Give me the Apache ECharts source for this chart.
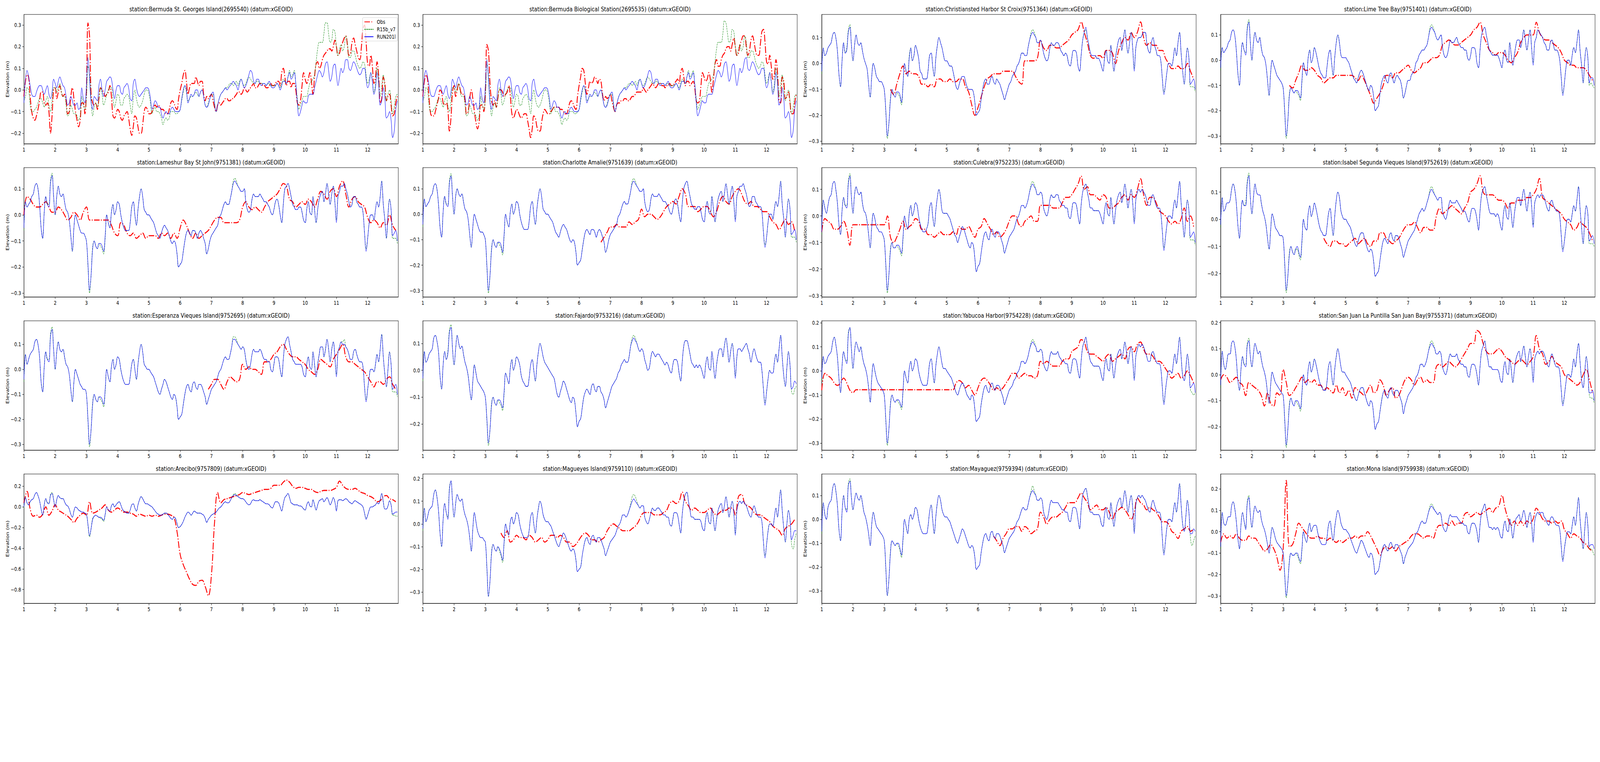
<!DOCTYPE html>
<html><head><meta charset="utf-8">
<script src="https://cdn.jsdelivr.net/npm/echarts@6/dist/echarts.min.js"></script>
<style>html,body{margin:0;padding:0;background:#fff;overflow:hidden}#wrap{position:absolute;left:0;top:0;overflow:hidden;background:#fff}#c{width:5150px;height:1950px;transform-origin:0 0}</style>
</head><body><div id="wrap"><div id="c"></div></div>
<script>
// ---------------- DATA (elevation in cm, regular time steps) ----------------
const titles = [
 "station:Bermuda St. Georges Island(2695540) (datum:xGEOID)",
 "station:Bermuda Biological Station(2695535) (datum:xGEOID)",
 "station:Christiansted Harbor St Croix(9751364) (datum:xGEOID)",
 "station:Lime Tree Bay(9751401) (datum:xGEOID)",
 "station:Lameshur Bay St John(9751381) (datum:xGEOID)",
 "station:Charlotte Amalie(9751639) (datum:xGEOID)",
 "station:Culebra(9752235) (datum:xGEOID)",
 "station:Isabel Segunda Vieques Island(9752619) (datum:xGEOID)",
 "station:Esperanza Vieques Island(9752695) (datum:xGEOID)",
 "station:Fajardo(9753216) (datum:xGEOID)",
 "station:Yabucoa Harbor(9754228) (datum:xGEOID)",
 "station:San Juan La Puntilla San Juan Bay(9755371) (datum:xGEOID)",
 "station:Arecibo(9757809) (datum:xGEOID)",
 "station:Magueyes Island(9759110) (datum:xGEOID)",
 "station:Mayaguez(9759394) (datum:xGEOID)",
 "station:Mona Island(9759938) (datum:xGEOID)"
];
const seriesNames = ["Obs", "R15b_v7", "RUN201l"];
const yLabel = "Elevation (m)";
const xTicks = [1,2,3,4,5,6,7,8,9,10,11,12];
const xMin = 1, xMax = 12.98;
const yMin = [-0.249,-0.249,-0.31,-0.331,-0.315,-0.325,-0.305,-0.286,-0.323,-0.297,-0.329,-0.29,-0.934,-0.35,-0.352,-0.335];
const yMax = [0.349,0.349,0.189,0.181,0.181,0.183,0.182,0.19,0.194,0.184,0.208,0.207,0.319,0.22,0.19,0.27];
const tA = [-0.2,-0.1,0,0.1,0.2,0.3];
const tB = [-0.3,-0.2,-0.1,0,0.1];
const tC = [-0.2,-0.1,0,0.1];
const tD = [-0.3,-0.2,-0.1,0,0.1,0.2];
const tE = [-0.2,-0.1,0,0.1,0.2];
const tF = [-0.8,-0.6,-0.4,-0.2,0,0.2];
const yTicks = [tA,tA,tB,tB,tB,tB,tB,tC,tB,tC,tD,tE,tF,tD,tB,tD];

const modelStart = 1.0, modelStep = 0.05;
const obsStep  = [0.05,0.05,0.1,0.1,0.1,0.1,0.1,0.1,0.1,0.1,0.1,0.1,0.1,0.1,0.1,0.1];
const obsStart = [1,1,3.2,3.2,1,6.7,1,4.3,6.9,1,1,1,1,3.5,6.5,1];

// ---- Bermuda St. Georges ----
const b1 = [-6,5,9,6,2,-2,-3,-3,-1,1,2,2,0,-2,0,2,-2,-4,-1,5,
3,1,4,6,4,2,1,-3,-7,-6,-3,-5,-7,-7,-6,-9,-8,1,-4,-6,
2,15,5,-6,-9,-3,-4,-5,2,5,0,-3,0,4,5,6,5,0,-4,0,
2,2,-1,-2,1,2,3,1,-4,-5,3,5,1,-2,-3,-2,-1,0,1,1,
0,-4,-9,-7,-5,-6,-8,-8,-11,-13,-11,-10,-11,-11,-9,-8,-9,-10,-10,-10,
-9,-4,0,2,0,-6,-4,-2,-3,-2,0,0,-3,-1,0,-3,-7,-8,-7,-4,
-2,-1,-6,-10,-7,-4,-2,-1,0,1,0,1,2,3,4,3,2,0,3,5,
3,1,2,4,7,9,8,4,3,5,5,3,2,3,3,2,3,4,2,1,
1,2,3,2,0,2,4,4,3,6,8,5,6,8,3,-6,-12,-10,-7,-5,
-6,-6,-3,-2,-2,-2,1,4,7,9,8,6,8,12,13,9,4,6,11,12,
7,2,6,10,8,10,14,14,10,9,11,13,12,10,8,7,8,10,10,5,
1,3,8,4,-2,1,8,3,-7,-5,1,-4,-13,-12,-10,-14,-22,-19,-9,-5];
const g1 = [-5,-3,1,0,-7,-10,-10,-9,-8,-6,-4,-4,-6,-8,-5,-3,-7,-10,-5,1,
1,-1,1,3,-1,-3,-3,-7,-12,-11,-7,-9,-11,-11,-12,-14,-12,-3,-7,-9,
-4,11,7,-4,-12,-8,-6,-8,-4,1,-2,-7,-5,-2,0,1,1,-4,-8,-5,
-2,-3,-7,-7,-4,-3,-2,-3,-7,-11,-4,0,-4,-7,-8,-7,-5,-2,0,0,
-2,-6,-11,-9,-8,-10,-10,-11,-13,-16,-14,-13,-14,-13,-10,-10,-10,-11,-11,-10,
-9,-5,-1,2,-1,-5,-4,-3,-3,-2,-1,-2,-3,-1,0,-3,-7,-8,-6,-4,
-2,-2,-7,-10,-7,-4,-2,-1,0,1,1,2,3,3,2,3,4,2,4,5,
3,2,3,5,6,5,4,3,3,4,4,3,3,3,3,2,3,3,2,2,
2,2,3,2,1,3,5,4,3,6,9,6,7,9,3,-4,-9,-7,-5,-3,
-3,-3,0,3,4,5,7,13,19,22,22,22,26,31,31,26,22,23,28,27,
20,16,19,21,18,20,25,22,15,15,18,18,16,13,11,10,11,13,12,7,
3,5,8,4,-1,3,10,5,-3,2,7,1,-5,-2,0,-5,-11,-8,-3,-2];
const o1 = [-3,4,7,6,-3,-10,-13,-14,-12,-9,-5,-1,-1,-6,-7,-6,-10,-20,-12,0,
1,-4,-1,2,-1,-3,-2,-5,-11,-10,-3,1,-4,-10,-14,-17,-14,-6,-6,-11,
0,31,25,-2,-6,-7,-6,-9,-4,1,0,-1,-3,-2,-1,2,-3,-12,-13,-11,
-9,-10,-13,-14,-12,-11,-10,-13,-18,-21,-17,-12,-13,-17,-20,-20,-16,-10,-8,-9,
-11,-11,-10,-8,-7,-8,-7,-8,-9,-9,-10,-11,-11,-9,-6,-5,-6,-8,-9,-4,
0,3,7,9,4,-2,1,3,3,3,6,4,2,4,4,-2,-5,-3,-4,-3,
-2,-5,-8,-10,-7,-6,-7,-6,-5,-4,-4,-5,-5,-4,-4,-3,-2,-1,-1,-2,
-1,1,0,-1,0,1,2,3,1,1,2,3,3,2,2,1,1,2,3,2,
2,3,4,4,2,8,10,6,2,4,4,1,3,3,0,-6,-7,-5,2,8,
5,3,5,8,4,-2,6,12,13,10,11,14,16,17,18,19,19,18,20,23,
20,16,17,20,22,24,25,21,16,17,22,24,21,18,15,14,20,28,30,22,
12,11,16,11,3,6,13,7,-6,-4,6,3,-5,-3,-2,-7,-12,-11,-6,-3];

// ---- Bermuda Biological ----
const b2 = [-6,6,9,6,2,-2,-3,-3,-1,1,2,2,0,-2,0,2,-2,-4,-1,5,
3,1,4,6,4,2,1,-3,-7,-6,-3,-5,-7,-7,-6,-9,-8,1,-4,-6,
2,14,5,-6,-9,-3,-4,-5,2,5,0,-3,0,4,5,6,5,0,-4,0,
2,2,-1,-2,1,2,3,1,-4,-5,3,5,1,-2,-3,-2,-1,0,1,1,
0,-4,-9,-7,-5,-6,-8,-8,-11,-13,-11,-10,-11,-11,-9,-8,-9,-10,-10,-10,
-9,-4,0,2,0,-6,-4,-2,-3,-2,0,0,-3,-1,0,-3,-7,-8,-7,-4,
-2,-1,-6,-10,-7,-4,-2,-1,0,1,0,1,2,3,4,3,2,0,3,5,
3,1,2,4,7,9,8,4,3,5,5,3,2,3,3,2,3,4,2,1,
1,2,3,2,0,2,4,4,3,6,8,5,6,8,3,-6,-12,-10,-7,-5,
-6,-6,-3,-2,-2,-2,1,4,7,9,8,6,8,12,13,9,4,6,11,12,
7,2,6,10,8,10,14,15,10,9,11,13,12,10,8,7,8,10,10,5,
1,3,8,4,-2,1,8,3,-7,-5,1,-4,-13,-12,-10,-14,-22,-19,-9,-5];
const g2 = [-5,-3,1,0,-7,-10,-10,-9,-8,-6,-4,-4,-6,-8,-5,-3,-7,-10,-5,1,
1,-1,1,3,-1,-3,-3,-7,-12,-11,-7,-9,-11,-11,-12,-14,-12,-3,-7,-9,
-4,12,7,-4,-12,-8,-6,-8,-4,1,-2,-7,-5,-2,0,1,1,-4,-8,-5,
-2,-3,-7,-7,-4,-3,-2,-3,-7,-11,-4,0,-4,-7,-8,-7,-5,-2,0,0,
-2,-6,-11,-9,-8,-10,-10,-11,-13,-16,-14,-13,-14,-13,-10,-10,-10,-11,-11,-10,
-9,-5,-1,2,-1,-5,-4,-3,-3,-2,-1,-2,-3,-1,0,-3,-7,-8,-6,-4,
-2,-2,-7,-10,-7,-4,-2,-1,0,1,1,2,3,3,2,3,4,2,4,5,
3,2,3,5,6,5,4,3,3,4,4,3,3,3,3,2,3,3,2,2,
2,2,3,2,1,3,5,4,3,6,9,6,7,9,3,-4,-9,-7,-5,-3,
-3,-3,0,3,4,5,7,13,19,22,22,22,26,32,31,26,22,23,28,27,
20,16,19,21,18,20,25,22,15,15,18,18,16,13,11,10,11,13,12,7,
3,5,8,4,-1,3,10,5,-3,2,7,1,-5,-2,0,-5,-11,-8,-3,-2];
const o2 = [-3,4,7,5,-4,-11,-12,-12,-10,-7,-4,0,-1,-6,-7,-6,-9,-19,-13,-1,
2,-3,0,3,0,-2,-2,-5,-11,-10,-4,0,-4,-10,-15,-18,-15,-7,-7,-10,
-2,21,18,3,-5,-7,-5,-8,-4,0,0,-1,-3,-2,-1,2,-3,-11,-13,-11,
-9,-10,-12,-13,-12,-11,-11,-14,-18,-22,-18,-12,-13,-17,-19,-19,-15,-11,-9,-10,
-11,-11,-10,-9,-8,-8,-8,-8,-9,-9,-10,-11,-11,-9,-6,-5,-6,-8,-9,-3,
2,6,10,9,3,-2,1,4,3,4,6,5,3,5,4,-2,-5,-3,-4,-3,
-2,-5,-8,-10,-7,-6,-6,-5,-5,-4,-4,-5,-5,-4,-3,-3,-2,-1,-1,-1,
-1,1,0,-1,0,1,2,3,2,1,2,3,3,2,2,1,2,2,3,2,
2,3,4,5,3,8,10,6,2,4,4,2,3,4,1,-5,-6,-5,2,8,
6,4,5,8,5,-1,5,12,14,11,11,14,16,17,19,20,20,18,21,24,
20,16,17,21,23,25,25,20,16,18,23,25,22,18,16,16,21,27,28,22,
13,12,16,11,5,7,14,8,-5,-6,6,4,-4,-3,-1,-6,-11,-11,-6,-2];

// ---- Christiansted ----
const b3 = [-3,6,3,4,6,7,8,11,12,10,5,-4,-9,1,8,4,5,12,14,7,
1,7,11,8,7,8,5,2,0,-2,-8,-13,-5,0,-2,-5,-6,-7,-7,-8,
-10,-18,-28,-23,-14,-10,-12,-13,-11,-11,-12,-15,-8,0,-3,-5,2,6,1,3,
7,5,2,-3,-4,-6,-6,-6,-3,3,4,-1,-5,2,7,10,8,6,3,1,
1,0,-1,-1,-3,-6,-9,-10,-8,-6,-5,-5,-7,-9,-10,-10,-10,-11,-15,-20,
-19,-18,-14,-10,-7,-6,-8,-8,-6,-5,-7,-8,-6,-7,-8,-10,-12,-14,-12,-10,
-8,-7,-5,-4,-3,-1,0,2,4,4,3,3,6,9,11,12,11,10,8,8,
9,7,4,2,1,2,6,8,7,7,8,8,7,5,4,3,4,3,0,-1,
2,5,5,4,-1,-3,3,9,12,14,10,7,4,3,3,3,2,2,1,-1,
-3,2,5,1,0,7,2,-3,2,6,9,10,5,9,13,8,4,8,12,6,
-3,6,9,10,10,11,12,12,8,5,4,8,10,7,5,3,3,1,-6,-12,
-8,-3,0,0,-1,2,6,3,8,12,4,-3,-8,0,6,2,-8,-7,-6,-10];
const g3 = [-4,6,3,4,6,7,8,11,12,10,5,-4,-9,1,8,4,6,13,15,7,
1,7,11,8,7,8,5,2,0,-2,-8,-13,-5,0,-2,-5,-6,-7,-7,-8,
-10,-19,-29,-23,-13,-10,-12,-13,-11,-12,-13,-16,-9,0,-3,-5,3,6,1,3,
7,5,2,-3,-4,-6,-6,-6,-3,3,4,-1,-5,2,7,10,8,6,3,1,
1,0,-1,-1,-3,-6,-9,-10,-8,-6,-5,-5,-7,-9,-10,-10,-10,-11,-15,-20,
-19,-18,-14,-10,-7,-6,-8,-8,-6,-5,-7,-8,-6,-7,-8,-10,-12,-14,-12,-10,
-8,-7,-5,-4,-3,-1,0,2,4,4,3,3,6,9,12,13,12,10,8,8,
9,7,4,2,1,2,6,8,7,7,8,8,7,5,4,3,4,3,0,-1,
2,5,5,4,-1,-3,3,9,12,13,10,7,4,3,3,3,2,2,1,-1,
-3,2,5,1,0,7,2,-3,2,6,9,10,5,9,13,8,4,8,12,6,
-2,6,9,10,10,11,12,12,8,5,4,8,10,7,5,3,3,1,-6,-11,
-8,-3,0,0,-1,2,6,3,8,12,4,-3,-8,0,6,2,-9,-9,-9,-11];
const o3 = [-10,-12,-8,-4,-1,-4,-3,-4,
-4,-5,-8,-8,-9,-8,-9,-6,-6,-7,
-7,-6,-7,-7,-6,-6,-9,-11,-16,-20,
-17,-13,-9,-6,-5,-4,-4,-4,-3,-3,
-3,-3,-5,-7,-8,1,1,1,1,2,
9,6,5,7,7,6,6,7,8,9,
11,12,13,16,12,8,3,2,3,3,
2,5,5,4,0,5,8,10,9,12,
10,12,16,10,7,8,7,7,5,5,
2,0,-2,-2,-1,-2,-2,0,-3,-6];

// ---- Lime Tree Bay ----
const b4 = [-3,5,3,4,5,7,8,11,12,10,4,-5,-10,1,7,4,2,12,15,7,
0,7,11,8,7,9,5,2,1,-2,-8,-14,-5,0,-2,-4,-6,-7,-8,-9,
-11,-20,-30,-24,-14,-11,-12,-13,-12,-12,-13,-15,-8,-1,-4,-6,1,4,-1,1,
5,3,0,-3,-5,-6,-7,-7,-3,2,4,-1,-6,1,7,10,7,2,1,1,
1,0,-1,-3,-5,-7,-8,-9,-7,-5,-4,-5,-7,-9,-11,-12,-10,-11,-15,-20,
-19,-18,-13,-9,-7,-6,-8,-9,-6,-5,-7,-9,-7,-6,-7,-8,-11,-15,-13,-10,
-8,-8,-6,-5,-4,-1,0,2,3,4,4,5,6,9,12,13,12,11,9,8,
9,10,5,2,1,2,5,8,7,7,8,9,7,6,5,5,4,4,1,0,
2,5,5,4,-1,-3,4,10,12,13,10,7,4,3,2,2,2,2,1,-1,
-3,2,4,0,-1,7,2,-2,2,6,8,8,5,8,12,8,4,8,12,5,
-2,7,9,12,11,10,9,7,6,4,4,7,8,6,4,4,3,0,-7,-14,
-9,-3,0,0,-2,2,5,3,7,12,4,-2,-9,0,5,1,-9,-7,-7,-10];
const g4 = [-4,5,3,4,5,7,8,11,12,10,4,-5,-10,1,7,4,3,13,16,7,
0,7,11,8,7,9,5,2,1,-2,-8,-14,-5,0,-2,-4,-6,-7,-8,-9,
-11,-21,-31,-24,-13,-11,-12,-13,-12,-13,-14,-16,-9,-1,-4,-6,1,4,-1,1,
5,3,0,-3,-5,-6,-7,-7,-3,2,4,-1,-6,1,7,10,7,2,1,1,
1,0,-1,-3,-5,-7,-8,-9,-7,-5,-4,-5,-7,-9,-11,-12,-10,-11,-15,-20,
-19,-18,-13,-9,-7,-6,-8,-9,-6,-5,-7,-9,-7,-6,-7,-8,-11,-15,-13,-10,
-8,-8,-6,-5,-4,-1,0,2,3,4,4,5,6,9,13,14,13,11,9,8,
9,10,5,2,1,2,5,8,7,7,8,9,7,6,5,5,4,4,1,0,
2,5,5,4,-1,-3,4,10,12,13,10,7,4,3,2,2,2,2,1,-1,
-3,2,4,0,-1,7,2,-2,2,6,8,8,5,8,12,8,4,8,12,5,
-1,7,9,12,11,10,9,7,6,4,4,7,8,6,4,4,3,0,-7,-13,
-9,-3,0,0,-2,2,5,3,7,12,4,-2,-9,0,5,1,-10,-9,-10,-11];
const o4 = [-10,-11,-8,-5,-2,-4,-4,-3,
-4,-6,-7,-9,-8,-7,-7,-6,-6,-6,
-6,-6,-6,-7,-8,-6,-8,-11,-14,-17,
-15,-13,-10,-6,-6,-7,-5,-5,-4,-3,
-2,-4,-5,-4,-3,-1,-1,0,1,1,
2,6,7,8,7,6,6,7,8,9,
10,12,13,15,10,7,4,3,2,3,
3,2,0,-1,1,3,7,9,10,10,
10,15,11,9,8,8,7,6,5,3,
0,-1,-2,-2,-3,-3,-3,-4,-6,-8];

// ---- Lameshur Bay ----
const b5 = [-5,5,3,4,5,7,8,11,12,10,4,-5,-9,1,7,4,3,12,15,7,
0,7,11,8,7,8,5,2,1,-2,-8,-14,-5,0,-2,-4,-6,-7,-7,-8,
-10,-19,-29,-23,-13,-10,-12,-13,-11,-11,-12,-14,-8,0,-3,-5,1,4,0,2,
5,4,0,-3,-5,-6,-6,-6,-3,3,5,0,-4,2,7,10,7,2,1,0,
0,-1,-2,-3,-5,-7,-8,-9,-7,-5,-4,-5,-6,-8,-10,-11,-10,-11,-15,-20,
-19,-18,-14,-10,-7,-6,-7,-8,-6,-6,-7,-9,-7,-6,-7,-9,-11,-15,-13,-10,
-8,-7,-6,-5,-4,-1,0,2,4,5,4,4,6,9,12,13,12,11,10,9,
9,10,5,2,1,2,6,8,7,7,7,8,7,6,5,5,4,3,1,0,
2,5,6,4,0,-3,4,10,11,12,10,7,4,3,2,2,3,3,1,-2,
-3,2,5,1,0,7,2,-3,2,6,8,9,5,8,12,8,4,8,11,5,
-3,7,9,11,11,12,10,8,5,3,4,7,7,5,4,3,3,1,-7,-14,
-9,-3,0,0,-2,2,5,3,7,13,4,-2,-9,0,6,2,-8,-7,-6,-10];
const g5 = [-6,5,3,4,5,7,8,11,12,10,4,-5,-9,1,7,4,4,13,16,7,
0,7,11,8,7,8,5,2,1,-2,-8,-14,-5,0,-2,-4,-6,-7,-7,-8,
-10,-20,-30,-23,-12,-10,-12,-13,-11,-12,-13,-15,-9,0,-3,-5,1,4,0,2,
5,4,0,-3,-5,-6,-6,-6,-3,3,5,0,-4,2,7,10,7,2,1,0,
0,-1,-2,-3,-5,-7,-8,-9,-7,-5,-4,-5,-6,-8,-10,-11,-10,-11,-15,-20,
-19,-18,-14,-10,-7,-6,-7,-8,-6,-6,-7,-9,-7,-6,-7,-9,-11,-15,-13,-10,
-8,-7,-6,-5,-4,-1,0,2,4,5,4,4,6,9,13,14,13,11,10,9,
9,10,5,2,1,2,6,8,7,7,7,8,7,6,5,5,4,3,1,0,
2,5,6,4,0,-3,4,10,11,12,10,7,4,3,2,2,3,3,1,-2,
-3,2,5,1,0,7,2,-3,2,6,8,9,5,8,12,8,4,8,11,5,
-2,7,9,11,11,12,10,8,5,3,4,7,7,5,4,3,3,1,-7,-13,
-9,-3,0,0,-2,2,5,3,7,13,4,-2,-9,0,6,2,-9,-9,-9,-11];
const o5 = [0,7,6,4,3,3,4,5,3,1,
1,3,2,0,-2,-1,1,0,-2,1,
3,-2,-2,-2,-2,-2,-2,-2,-4,-7,
-8,-3,-4,-7,-8,-7,-9,-8,-7,-9,
-8,-8,-8,-9,-7,-8,-7,-9,-7,-9,
-5,-2,-4,-7,-9,-7,-9,-8,-7,-6,
-4,-2,-1,-1,-3,-3,-3,-3,-3,-2,
3,5,3,2,3,2,1,3,5,6,
7,8,10,12,11,6,5,3,4,5,
4,6,5,3,6,9,8,6,9,10,
7,11,13,8,3,6,7,5,4,3,
-1,-3,-2,-3,-5,-3,-4,0,-4,-6];

// ---- Charlotte Amalie ----
const b6 = [-4,6,3,4,5,7,8,11,12,10,4,-5,-9,1,7,4,3,12,15,7,
0,7,10,8,7,8,5,2,1,-2,-8,-13,-5,0,-2,-4,-6,-7,-7,-8,
-10,-20,-30,-24,-14,-10,-12,-13,-11,-11,-12,-15,-8,0,-3,-5,1,4,0,2,
5,4,0,-3,-5,-6,-6,-6,-3,3,5,0,-4,2,7,10,7,2,1,0,
0,-1,-2,-3,-5,-7,-8,-9,-7,-5,-4,-5,-6,-8,-10,-11,-10,-11,-15,-20,
-19,-18,-14,-10,-7,-6,-7,-8,-6,-6,-7,-9,-7,-6,-7,-9,-11,-15,-13,-10,
-8,-7,-6,-5,-4,-1,0,2,4,5,4,4,6,9,12,13,12,11,10,9,
9,10,5,2,1,2,6,8,7,7,7,8,7,6,5,5,4,3,1,0,
2,5,6,4,0,-3,4,10,12,13,10,7,4,3,2,2,3,3,1,-2,
-3,2,5,1,0,7,2,-3,2,6,8,9,5,8,12,8,4,8,11,5,
-3,7,9,11,11,12,10,8,5,3,4,7,7,5,4,3,3,1,-7,-13,
-9,-3,0,0,-2,2,5,3,7,13,4,-2,-9,0,6,2,-8,-7,-6,-10];
const g6 = [-5,6,3,4,5,7,8,11,12,10,4,-5,-9,1,7,4,4,13,16,7,
0,7,10,8,7,8,5,2,1,-2,-8,-13,-5,0,-2,-4,-6,-7,-7,-8,
-10,-21,-31,-24,-13,-10,-12,-13,-11,-12,-13,-16,-9,0,-3,-5,1,4,0,2,
5,4,0,-3,-5,-6,-6,-6,-3,3,5,0,-4,2,7,10,7,2,1,0,
0,-1,-2,-3,-5,-7,-8,-9,-7,-5,-4,-5,-6,-8,-10,-11,-10,-11,-15,-20,
-19,-18,-14,-10,-7,-6,-7,-8,-6,-6,-7,-9,-7,-6,-7,-9,-11,-15,-13,-10,
-8,-7,-6,-5,-4,-1,0,2,4,5,4,4,6,9,13,14,13,11,10,9,
9,10,5,2,1,2,6,8,7,7,7,8,7,6,5,5,4,3,1,0,
2,5,6,4,0,-3,4,10,12,13,10,7,4,3,2,2,3,3,1,-2,
-3,2,5,1,0,7,2,-3,2,6,8,9,5,8,12,8,4,8,11,5,
-2,7,9,11,11,12,10,8,5,3,4,7,7,5,4,3,3,1,-7,-12,
-9,-3,0,0,-2,2,5,3,7,13,4,-2,-9,0,6,2,-9,-9,-9,-11];
const o6 = [-11,-9,-7,
-5,-5,-4,-5,-5,-5,-3,-4,-3,-2,
2,-1,0,0,-1,-2,-1,1,3,4,
5,4,7,10,8,3,3,3,1,2,
3,3,1,-1,1,5,7,5,4,7,
9,10,8,5,4,5,3,3,2,1,
1,-1,-3,-4,-6,-4,-2,-4,-3,-7];

// ---- Culebra ----
const b7 = [-6,6,3,1,4,7,8,12,13,10,5,-3,-7,2,7,4,3,12,15,7,
1,8,11,9,8,9,5,2,1,-2,-7,-12,-4,1,-1,-4,-5,-6,-6,-7,
-9,-18,-28,-22,-13,-10,-12,-12,-11,-11,-12,-14,-8,0,-3,-5,1,4,0,2,
5,4,0,-3,-5,-6,-6,-5,-3,3,5,0,-4,2,7,10,7,2,1,1,
1,0,-1,-3,-5,-7,-8,-10,-8,-6,-4,-5,-7,-9,-11,-12,-10,-11,-16,-21,
-19,-18,-14,-10,-7,-6,-8,-9,-6,-5,-7,-8,-6,-6,-7,-9,-11,-14,-12,-10,
-8,-7,-6,-5,-3,-1,0,2,4,4,3,4,6,9,11,12,11,10,8,8,
9,8,3,1,0,2,6,8,7,7,8,8,6,5,4,4,3,3,0,-1,
2,5,5,4,0,-3,4,9,11,12,9,6,3,3,2,2,2,2,1,-1,
-3,2,5,1,0,7,2,-3,2,6,8,9,5,8,12,8,3,7,10,5,
-3,6,9,10,9,10,9,8,6,4,4,7,8,6,4,3,3,1,-6,-13,
-8,-3,0,0,-1,3,6,3,8,13,5,-2,-8,0,6,2,-8,-7,-6,-10];
const g7 = [-7,6,3,1,4,7,8,12,13,10,5,-3,-7,2,7,4,4,13,16,7,
1,8,11,9,8,9,5,2,1,-2,-7,-12,-4,1,-1,-4,-5,-6,-6,-7,
-9,-19,-29,-22,-12,-10,-12,-12,-11,-12,-13,-15,-9,0,-3,-5,1,4,0,2,
5,4,0,-3,-5,-6,-6,-5,-3,3,5,0,-4,2,7,10,7,2,1,1,
1,0,-1,-3,-5,-7,-8,-10,-8,-6,-4,-5,-7,-9,-11,-12,-10,-11,-16,-21,
-19,-18,-14,-10,-7,-6,-8,-9,-6,-5,-7,-8,-6,-6,-7,-9,-11,-14,-12,-10,
-8,-7,-6,-5,-3,-1,0,2,4,4,3,4,6,9,12,13,12,10,8,8,
9,8,3,1,0,2,6,8,7,7,8,8,6,5,4,4,3,3,0,-1,
2,5,5,4,0,-3,4,9,11,12,9,6,3,3,2,2,2,2,1,-1,
-3,2,5,1,0,7,2,-3,2,6,8,9,5,8,12,8,3,7,10,5,
-2,6,9,10,9,10,9,8,6,4,4,7,8,6,4,3,3,1,-6,-12,
-8,-3,0,0,-1,3,6,3,8,13,5,-2,-8,0,6,2,-9,-9,-9,-11];
const o7 = [-6,-1,-2,-3,-5,-5,-4,-2,-5,-11,
-3.3,-3.3,-3.3,-3.3,-3.3,-3.3,-3.3,-3.3,-3.3,-3.3,
-3.3,0,-8,-10,-8,-5,-2,-5,-4,-3,
-1,-2,-5,-5,-7,-7,-8,-7,-6,-7,
-7,-7,-6,-7,-4,-5,-5,-4,-6,-8,
-5,-4,-1,-3,-5,-7,-6,-8,-7,-5,
-2,0,0,-3,-4,-2,-1,0,-2,-2,
4,4,4,4,3,3,3,5,7,7,
8,10,12,15,10,11,8,8,7,6,
8,7,3,3,4,5,7,8,6,8,
7,10,14,8,4,7,7,5,2,1,
0,-2,-3,-2,-3,-1,3,-2,0,-4];

// ---- Isabel Segunda ----
const b8 = [-2,8,3,4,6,6,7,11,13,11,6,-2,-7,2,7,5,5,13,16,8,
2,8,13,10,9,9,6,3,1,-2,-7,-11,-4,2,0,-3,-4,-5,-6,-6,
-7,-16,-26,-21,-13,-10,-12,-13,-11,-10,-12,-14,-8,0,-3,-4,2,5,1,3,
6,4,1,-2,-4,-5,-6,-6,-3,2,4,-1,-6,1,7,10,8,3,1,0,
0,-1,-2,-3,-5,-7,-9,-10,-8,-6,-5,-5,-7,-9,-11,-12,-11,-12,-16,-21,
-20,-19,-15,-11,-8,-7,-8,-9,-6,-5,-7,-8,-6,-6,-7,-9,-11,-14,-12,-10,
-8,-7,-6,-5,-4,-2,0,2,3,4,3,4,6,8,10,11,10,9,8,7,
8,8,3,1,0,2,5,7,6,6,6,7,6,5,4,3,3,2,0,-1,
2,4,4,3,0,-4,3,9,11,12,9,6,3,2,2,2,1,2,1,-2,
-4,2,5,1,0,6,2,-3,2,6,8,8,5,8,11,7,3,7,10,5,
-3,6,8,9,8,9,9,8,6,4,3,6,7,5,4,3,3,1,-6,-12,
-8,-3,0,0,-1,2,5,3,7,12,4,-3,-9,0,5,2,-8,-7,-6,-9];
const g8 = [-3,8,3,4,6,6,7,11,13,11,6,-2,-7,2,7,5,6,14,17,8,
2,8,13,10,9,9,6,3,1,-2,-7,-11,-4,2,0,-3,-4,-5,-6,-6,
-7,-17,-27,-21,-12,-10,-12,-13,-11,-11,-13,-15,-9,0,-3,-4,2,5,1,3,
6,4,1,-2,-4,-5,-6,-6,-3,2,4,-1,-6,1,7,10,8,3,1,0,
0,-1,-2,-3,-5,-7,-9,-10,-8,-6,-5,-5,-7,-9,-11,-12,-11,-12,-16,-21,
-20,-19,-15,-11,-8,-7,-8,-9,-6,-5,-7,-8,-6,-6,-7,-9,-11,-14,-12,-10,
-8,-7,-6,-5,-4,-2,0,2,3,4,3,4,6,8,11,12,11,9,8,7,
8,8,3,1,0,2,5,7,6,6,6,7,6,5,4,3,3,2,0,-1,
2,4,4,3,0,-4,3,9,11,12,9,6,3,2,2,2,1,2,1,-2,
-4,2,5,1,0,6,2,-3,2,6,8,8,5,8,11,7,3,7,10,5,
-2,6,8,9,8,9,9,8,6,4,3,6,7,5,4,3,3,1,-6,-11,
-8,-3,0,0,-1,2,5,3,7,12,4,-3,-9,0,5,2,-9,-9,-9,-10];
const o8 = [-7,-9,-10,-8,-8,-9,-9,
-10,-9,-8,-7,-9,-8,-7,-9,-10,-8,
-8,-5,-5,-7,-8,-9,-8,-7,-5,-3,
-2,-2,-1,-3,-5,-3,-3,-4,-4,1,
4,2,3,4,5,4,3,2,4,6,
10,11,13,16,10,9,9,9,8,7,
7,6,4,6,6,7,7,7,8,8,
9,11,15,8,7,6,5,4,3,2,
0,-1,-2,-4,-3,-1,-2,-3,-5,-8];

// ---- Esperanza ----
const b9 = [-4,6,2,4,6,7,8,11,12,10,5,-5,-9,1,7,4,3,13,16,8,
0,7,11,8,7,8,5,2,1,-2,-8,-13,-5,0,-2,-4,-6,-7,-8,-8,
-10,-20,-30,-24,-14,-10,-12,-13,-11,-11,-12,-14,-8,0,-3,-5,1,4,0,2,
5,4,0,-3,-5,-6,-6,-6,-3,2,4,0,-4,2,7,10,7,2,1,0,
0,-1,-2,-3,-5,-7,-9,-10,-8,-6,-4,-5,-7,-9,-11,-12,-10,-11,-15,-20,
-19,-18,-14,-10,-7,-6,-8,-9,-6,-5,-7,-8,-6,-6,-7,-9,-11,-14,-12,-10,
-8,-7,-6,-5,-3,-1,0,2,4,5,4,4,6,9,12,12,11,10,9,8,
9,8,4,1,0,2,6,8,7,7,7,8,7,5,4,4,3,3,0,-1,
2,5,5,4,0,-3,4,10,12,13,10,7,4,3,2,2,2,2,1,-2,
-3,2,5,1,0,7,2,-3,2,6,9,9,5,8,12,8,3,8,11,5,
-3,7,9,11,10,10,9,8,6,4,4,7,8,6,4,3,3,1,-7,-13,
-8,-3,0,0,-1,2,6,3,8,14,5,-2,-7,0,7,2,-8,-7,-6,-10];
const g9 = [-5,6,2,4,6,7,8,11,12,10,5,-5,-9,1,7,4,4,14,17,8,
0,7,11,8,7,8,5,2,1,-2,-8,-13,-5,0,-2,-4,-6,-7,-8,-8,
-10,-21,-31,-24,-13,-10,-12,-13,-11,-12,-13,-15,-9,0,-3,-5,1,4,0,2,
5,4,0,-3,-5,-6,-6,-6,-3,2,4,0,-4,2,7,10,7,2,1,0,
0,-1,-2,-3,-5,-7,-9,-10,-8,-6,-4,-5,-7,-9,-11,-12,-10,-11,-15,-20,
-19,-18,-14,-10,-7,-6,-8,-9,-6,-5,-7,-8,-6,-6,-7,-9,-11,-14,-12,-10,
-8,-7,-6,-5,-3,-1,0,2,4,5,4,4,6,9,13,13,12,10,9,8,
9,8,4,1,0,2,6,8,7,7,7,8,7,5,4,4,3,3,0,-1,
2,5,5,4,0,-3,4,10,12,13,10,7,4,3,2,2,2,2,1,-2,
-3,2,5,1,0,7,2,-3,2,6,9,9,5,8,12,8,3,8,11,5,
-2,7,9,11,11,12,9,8,6,4,4,7,8,6,4,3,3,1,-7,-12,
-8,-3,0,0,-1,2,6,3,8,14,5,-2,-7,0,7,2,-9,-9,-9,-11];
const o9 = [-8,
-6,-4,-4,-6,-8,-5,-3,-4,-5,-4,
2,0,1,0,0,-1,-2,3,3,4,
6,7,9,10,8,6,5,5,4,3,
2,0,-1,-2,0,4,3,2,1,4,
6,8,10,5,3,3,2,1,0,-1,
-3,-5,-7,-5,-5,-6,-4,-3,-6,-8];

// ---- Fajardo ----
const b10 = [-3,7,3,4,6,7,8,12,13,11,7,-2,-7,2,7,4,6,14,16,8,
2,8,13,10,8,9,6,3,1,-2,-7,-11,-4,2,-1,-4,-5,-6,-7,-8,
-10,-18,-27,-22,-13,-10,-12,-13,-11,-11,-12,-14,-8,-1,-3,-5,1,4,0,2,
5,4,2,-2,-4,-5,-6,-6,-3,2,4,0,-4,2,7,10,8,5,3,2,
1,0,-1,-2,-3,-6,-9,-10,-8,-6,-4,-5,-7,-9,-11,-12,-10,-11,-16,-21,
-19,-18,-14,-10,-8,-7,-8,-9,-6,-5,-7,-8,-6,-6,-8,-9,-11,-14,-12,-10,
-8,-6,-5,-4,-3,-1,0,2,3,4,3,3,5,9,11,12,11,10,8,7,
8,7,4,2,0,1,5,7,6,5,6,6,5,4,3,2,3,2,0,-1,
2,4,4,3,-1,-4,3,9,11,11,9,6,3,2,1,2,1,2,1,-1,
-3,2,5,1,0,7,2,-3,2,6,8,8,5,9,12,8,3,7,10,5,
-3,5,8,8,7,8,9,10,8,6,3,6,8,6,4,3,3,0,-7,-13,
-8,-3,0,-1,-1,3,6,3,8,13,5,-2,-6,1,7,2,-7,-6,-4,-5];
const g10 = [-4,7,3,4,6,7,8,12,13,11,7,-2,-7,2,7,4,7,15,17,8,
2,8,13,10,8,9,6,3,1,-2,-7,-11,-4,2,-1,-4,-5,-6,-7,-8,
-10,-19,-28,-22,-12,-10,-12,-13,-11,-12,-13,-15,-9,-1,-3,-5,1,4,0,2,
5,4,2,-2,-4,-5,-6,-6,-3,2,4,0,-4,2,7,10,8,5,3,2,
1,0,-1,-2,-3,-6,-9,-10,-8,-6,-4,-5,-7,-9,-11,-12,-10,-11,-16,-21,
-19,-18,-14,-10,-8,-7,-8,-9,-6,-5,-7,-8,-6,-6,-8,-9,-11,-14,-12,-10,
-8,-6,-5,-4,-3,-1,0,2,3,4,3,3,5,9,12,13,12,10,8,7,
8,7,4,2,0,1,5,7,6,5,6,6,5,4,3,2,3,2,0,-1,
2,4,4,3,-1,-4,3,9,11,11,9,6,3,2,1,2,1,2,1,-1,
-3,2,5,1,0,7,2,-3,2,6,8,8,5,9,12,8,3,7,10,5,
-2,5,8,8,7,8,9,10,8,6,3,6,8,6,4,3,3,0,-7,-12,
-8,-3,0,-1,-1,3,6,3,8,13,5,-2,-6,1,7,2,-8,-9,-7,-6];
const o10 = [];

// ---- Yabucoa ----
const b11 = [-3,6,3,4,6,7,8,12,14,11,6,-3,-9,2,8,5,3,15,18,9,
1,8,12,10,8,10,6,3,1,-2,-7,-13,-3,3,0,-3,-5,-6,-7,-8,
-10,-20,-30,-24,-14,-10,-12,-13,-12,-12,-13,-15,-8,0,-3,-5,1,4,0,2,
5,4,0,-3,-5,-6,-6,-6,-3,3,5,0,-5,2,7,10,7,3,1,1,
0,-1,-2,-3,-5,-7,-9,-10,-8,-6,-5,-6,-8,-10,-11,-12,-10,-11,-16,-21,
-20,-19,-14,-10,-7,-6,-8,-9,-6,-5,-7,-8,-6,-6,-7,-9,-11,-14,-12,-10,
-8,-7,-6,-4,-3,-1,0,2,4,4,3,4,6,9,11,12,11,10,8,8,
9,8,3,1,0,2,6,8,7,7,7,8,6,5,4,4,3,3,0,-1,
2,5,5,4,0,-3,4,10,12,14,10,7,4,3,2,2,2,2,1,-2,
-4,2,5,1,0,7,2,-3,2,6,8,9,5,8,12,8,3,7,10,5,
-4,6,9,11,10,11,10,8,6,4,4,7,8,6,4,3,3,1,-7,-14,
-8,-3,0,0,-1,3,7,3,8,14,6,-2,-4,1,7,2,-7,-6,-5,-9];
const g11 = [-4,6,3,4,6,7,8,12,14,11,6,-3,-9,2,8,5,4,16,18,9,
1,8,12,10,8,10,6,3,1,-2,-7,-13,-3,3,0,-3,-5,-6,-7,-8,
-10,-21,-31,-24,-13,-10,-12,-13,-12,-13,-14,-16,-9,0,-3,-5,1,4,0,2,
5,4,0,-3,-5,-6,-6,-6,-3,3,5,0,-5,2,7,10,7,3,1,1,
0,-1,-2,-3,-5,-7,-9,-10,-8,-6,-5,-6,-8,-10,-11,-12,-10,-11,-16,-21,
-20,-19,-14,-10,-7,-6,-8,-9,-6,-5,-7,-8,-6,-6,-7,-9,-11,-14,-12,-10,
-8,-7,-6,-4,-3,-1,0,2,4,4,3,4,6,9,12,13,12,10,8,8,
9,8,3,1,0,2,6,8,7,7,7,8,6,5,4,4,3,3,0,-1,
2,5,5,4,0,-3,4,10,12,14,10,7,4,3,2,2,2,2,1,-2,
-4,2,5,1,0,7,2,-3,2,6,8,9,5,8,12,8,3,7,10,5,
-3,6,9,11,10,11,10,8,6,4,4,7,8,6,4,3,3,1,-7,-13,
-8,-3,0,0,-1,3,7,3,8,14,6,-2,-4,1,7,2,-8,-9,-10,-9];
const o11 = [-8,-1,-2,-3,-5,-6,-5,-3,-5,-8,
-9,-7.8,-7.8,-7.8,-7.8,-7.8,-7.8,-7.8,-7.8,-7.8,
-7.8,-7.8,-7.8,-7.8,-7.8,-7.8,-7.8,-7.8,-7.8,-7.8,
-7.8,-7.8,-7.8,-7.8,-7.8,-7.8,-7.8,-7.8,-7.8,-7.8,
-7.8,-7.8,-7.8,-5,-4,-5,-7,-6,-8,-10,
-7,-4,-3,-4,-6,-8,-7,-8,-7,-5,
-3,-1,-1,-3,-2,-1,-2,-2,-3,-2,
4,3,4,3,2,2,2,4,5,5,
8,9,10,13,12,8,7,7,6,5,
4,6,7,4,5,6,7,5,9,10,
8,11,12,9,7,7,6,4,4,3,
1,-1,-3,-2,-1,-3,-2,0,-2,-5];

// ---- San Juan ----
const b12 = [-4,9,4,2,5,8,8,12,13,11,6,-2,-6,2,7,4,3,11,13,7,
3,8,12,10,8,9,6,3,1,-2,-7,-11,-4,1,-1,-3,-4,-5,-6,-7,
-8,-17,-27,-21,-12,-9,-11,-12,-10,-10,-11,-13,-7,0,-3,-4,2,5,1,3,
6,4,1,-2,-4,-5,-6,-6,-3,3,5,0,-4,2,7,10,7,3,1,1,
0,-1,-2,-3,-5,-7,-9,-10,-8,-6,-5,-5,-7,-9,-11,-12,-10,-11,-16,-21,
-19,-18,-14,-10,-7,-6,-8,-9,-6,-5,-7,-8,-6,-6,-7,-9,-11,-15,-12,-10,
-8,-7,-6,-5,-3,-1,0,2,4,4,3,4,6,9,11,12,11,10,8,8,
9,8,3,1,0,2,6,8,7,7,7,8,6,5,4,4,3,3,0,-1,
2,4,4,3,0,-4,3,9,11,13,9,6,3,3,2,2,2,2,1,-2,
-3,2,5,1,0,6,2,-3,2,6,8,9,5,8,11,7,3,7,10,5,
-3,6,8,9,8,9,9,8,6,4,3,6,8,6,4,3,3,1,-6,-12,
-8,-3,0,0,-1,2,6,3,8,12,5,-2,-5,1,7,2,-7,-7,-6,-10];
const g12 = [-5,9,4,2,5,8,8,12,13,11,6,-2,-6,2,7,4,4,12,14,7,
3,8,12,10,8,9,6,3,1,-2,-7,-11,-4,1,-1,-3,-4,-5,-6,-7,
-8,-18,-28,-21,-11,-9,-11,-12,-10,-11,-12,-14,-8,0,-3,-4,2,5,1,3,
6,4,1,-2,-4,-5,-6,-6,-3,3,5,0,-4,2,7,10,7,3,1,1,
0,-1,-2,-3,-5,-7,-9,-10,-8,-6,-5,-5,-7,-9,-11,-12,-10,-11,-16,-21,
-19,-18,-14,-10,-7,-6,-8,-9,-6,-5,-7,-8,-6,-6,-7,-9,-11,-15,-12,-10,
-8,-7,-6,-5,-3,-1,0,2,4,4,3,4,6,9,12,13,12,10,8,8,
9,8,3,1,0,2,6,8,7,7,7,8,6,5,4,4,3,3,0,-1,
2,4,4,3,0,-4,3,9,11,13,9,6,3,3,2,2,2,2,1,-2,
-3,2,5,1,0,6,2,-3,2,6,8,9,5,8,11,7,3,7,10,5,
-2,6,8,9,8,9,9,8,6,4,3,6,8,6,4,3,3,1,-6,-11,
-8,-3,0,0,-1,2,6,3,8,12,5,-2,-5,1,7,2,-8,-9,-9,-11];
const o12 = [-2,0,-1,-3,-2,-1,-3,-4,-8,-3,
-4,-5,-6,-8,-12,-7,-11,-12,-7,-8,
2,-3,-8,-7,-5,-3,-1,-3,-2,-3,
-2,-4,-4,-6,-5,-6,-7,-4,-7,-5,
-8,-6,-9,-5,-6,-7,-8,-6,-4,-7,
-6,-2,-4,-8,-6,-5,-9,-8,-5,-2,
-1,-2,-4,-2,-1,-3,-2,-3,-3,3,
4,3,4,5,4,3,4,6,8,10,
12,12,17,16,12,9,8,8,9,10,
9,7,6,5,4,5,6,5,4,5,
7,15,10,8,4,5,7,5,4,3,
0,-1,-2,-3,-4,-3,0,2,-2,-7];

// ---- Arecibo ----
const b13 = [0,9,4,2,5,7,8,12,14,11,6,-2,-8,2,8,4,3,11,13,7,
0,7,11,9,8,8,5,2,1,-2,-7,-10,-4,0,-1,-3,-4,-5,-5,-6,
-7,-17,-28,-21,-12,-9,-8,-9,-10,-10,-11,-13,-7,0,-3,-4,1,3,0,2,
4,5,2,-2,-4,-5,-6,-6,-3,2,3,-1,-4,2,7,10,8,5,3,3,
2,1,0,-2,-4,-6,-7,-8,-8,-7,-6,-6,-7,-9,-11,-12,-10,-11,-16,-20,
-19,-17,-14,-10,-7,-5,-6,-8,-6,-4,-5,-6,-6,-6,-7,-8,-11,-15,-12,-10,
-8,-7,-6,-5,-3,-1,0,2,4,5,4,4,6,9,11,12,11,10,9,8,
8,7,5,3,2,3,6,7,6,6,6,7,6,5,4,3,3,2,0,-1,
2,5,5,4,0,-4,3,9,11,13,9,4,3,2,2,2,1,1,0,-2,
-3,2,5,1,0,7,2,-3,2,6,7,8,5,7,9,6,2,5,9,5,
-4,6,7,7,6,7,8,7,5,4,3,5,6,5,4,3,2,0,-6,-12,
-8,-3,0,0,1,2,4,3,7,13,5,-2,-2,1,6,2,-7,-6,-5,-5];
const g13 = [-1,9,4,2,5,7,8,12,14,11,6,-2,-8,2,8,4,4,12,14,7,
0,7,11,9,8,8,5,2,1,-2,-7,-10,-4,0,-1,-3,-4,-5,-5,-6,
-7,-18,-29,-21,-11,-9,-8,-9,-10,-11,-12,-14,-8,0,-3,-4,1,3,0,2,
4,5,2,-2,-4,-5,-6,-6,-3,2,3,-1,-4,2,7,10,8,5,3,3,
2,1,0,-2,-4,-6,-7,-8,-8,-7,-6,-6,-7,-9,-11,-12,-10,-11,-16,-20,
-19,-17,-14,-10,-7,-5,-6,-8,-6,-4,-5,-6,-6,-6,-7,-8,-11,-15,-12,-10,
-8,-7,-6,-5,-3,-1,0,2,4,5,4,4,6,9,12,13,12,10,9,8,
8,7,5,3,2,3,6,7,6,6,6,7,6,5,4,3,3,2,0,-1,
2,5,5,4,0,-4,3,9,11,13,9,4,3,2,2,2,1,1,0,-2,
-3,2,5,1,0,7,2,-3,2,6,7,8,5,7,9,6,2,5,9,5,
-3,6,7,7,6,7,8,7,5,4,3,5,6,5,4,3,2,0,-6,-11,
-8,-3,0,0,1,2,4,3,7,13,5,-2,-2,1,6,2,-8,-8,-9,-9];
const o13 = [4,15,-2,-9,-8,-10,-7,0,-8,-4,
2,-3,-5,-7,-9,-12,-15,-11,-8,-6,
-8,5,-6,-5,-3,-1,2,-3,-5,-3,
-1,-3,-5,-5,-6,-7,-9,-7,-8,-9,
-8,-9,-8,-9,-8,-7,-7,-8,-10,-24,
-46,-56,-63,-70,-75,-76,-72,-71,-77,-86,
-66,-15,14,4,7,8,9,10,11,12,
14,13,12,13,14,15,16,17,17,18,
21,21,21,24,26,24,20,18,19,19,
18,17,17,15,14,15,16,16,16,17,
19,25,21,18,17,17,18,16,14,13,
11,10,8,5,6,10,11,8,7,5];

// ---- Magueyes ----
const b14 = [-2,7,1,3,6,7,8,13,15,12,6,-4,-10,2,9,5,2,15,19,10,
3,9,13,11,10,11,7,4,2,-1,-6,-12,-2,5,1,-3,-5,-6,-6,-7,
-8,-19,-32,-25,-13,-9,-11,-12,-10,-11,-13,-16,-8,0,-3,-5,1,3,0,2,
5,4,0,-3,-5,-6,-6,-6,-3,3,5,0,-4,2,7,10,8,4,2,1,
1,0,-1,-3,-5,-7,-9,-10,-8,-6,-4,-5,-7,-9,-11,-12,-11,-12,-16,-21,
-20,-19,-14,-10,-7,-6,-8,-9,-6,-5,-7,-8,-6,-6,-7,-9,-11,-14,-12,-10,
-8,-7,-6,-5,-3,-1,0,2,4,4,3,4,6,8,10,11,10,9,8,7,
8,8,3,1,0,2,5,7,6,6,7,7,6,5,4,4,3,3,0,-1,
2,5,5,4,0,-4,4,10,13,14,10,6,3,3,2,2,2,2,1,-2,
-3,2,5,1,0,7,2,-3,2,6,8,9,5,8,12,8,3,7,10,5,
-5,6,9,10,9,10,9,8,6,4,3,6,8,6,4,3,3,1,-8,-15,
-9,-3,0,0,-1,3,7,3,9,15,6,-2,-8,0,6,2,-7,-5,-3,-3];
const g14 = [-3,7,1,3,6,7,8,13,15,12,6,-4,-10,2,9,5,3,16,19,10,
3,9,13,11,10,11,7,4,2,-1,-6,-12,-2,5,1,-3,-5,-6,-6,-7,
-8,-20,-32,-25,-12,-9,-11,-12,-10,-12,-14,-17,-9,0,-3,-5,1,3,0,2,
5,4,0,-3,-5,-6,-6,-6,-3,3,5,0,-4,2,7,10,8,4,2,1,
1,0,-1,-3,-5,-7,-9,-10,-8,-6,-4,-5,-7,-9,-11,-12,-11,-12,-16,-21,
-20,-19,-14,-10,-7,-6,-8,-9,-6,-5,-7,-8,-6,-6,-7,-9,-11,-14,-12,-10,
-8,-7,-6,-5,-3,-1,0,2,4,4,3,4,6,9,12,13,12,10,8,7,
8,8,3,1,0,2,5,7,6,6,7,7,6,5,4,4,3,3,0,-1,
2,5,5,4,0,-4,4,10,13,14,10,6,3,3,2,2,2,2,1,-2,
-3,2,5,1,0,7,2,-3,2,6,8,9,5,8,12,8,3,7,10,5,
-4,6,9,10,9,10,9,8,6,4,3,6,8,6,4,3,3,1,-8,-14,
-9,-3,0,0,-1,3,7,3,9,15,6,-2,-8,0,6,2,-9,-11,-7,-4];
const o14 = [-4,-6,-3,-8,-7,
-5,-6,-6,-7,-5,-6,-8,-7,-6,-8,
-7,-5,-5,-6,-5,-6,-8,-8,-10,-9,
-7,-5,-4,-5,-7,-7,-8,-7,-6,-3,
-1,0,-1,-2,-3,-3,-3,-2,-1,1,
4,5,5,5,4,4,4,5,6,9,
10,9,10,14,10,8,6,7,6,5,
5,6,7,5,4,5,6,6,7,7,
4,12,13,9,8,7,5,4,4,3,
2,1,-1,-2,-3,-5,-2,-1,0,2];

// ---- Mayaguez ----
const b15 = [-5,7,2,0,5,7,8,13,15,12,6,-4,-9,3,10,5,3,14,16,9,
4,8,11,9,8,10,7,3,1,-2,-6,-11,-2,3,0,-3,-4,-5,-6,-7,
-9,-20,-32,-25,-14,-9,-10,-11,-10,-10,-12,-15,-8,0,-3,-6,0,2,0,2,
5,4,0,-3,-5,-6,-6,-6,-3,3,6,0,-6,1,7,10,8,4,2,1,
1,0,-1,-3,-5,-7,-9,-10,-8,-6,-4,-5,-7,-9,-11,-12,-11,-12,-16,-21,
-20,-19,-14,-10,-7,-6,-8,-9,-6,-5,-7,-8,-6,-6,-7,-9,-11,-14,-12,-10,
-8,-7,-6,-5,-3,-1,0,2,4,5,4,4,6,9,11,12,11,10,8,8,
9,8,3,1,0,2,6,8,7,7,7,7,6,5,4,4,3,3,0,-1,
2,5,5,4,0,-4,4,10,12,13,10,6,3,3,2,2,2,2,1,-2,
-3,2,5,1,0,7,2,-3,2,6,8,9,5,8,12,8,3,7,10,5,
-6,6,9,10,9,10,9,8,6,4,3,6,8,6,4,3,3,1,-8,-15,
-9,-3,0,0,-1,3,7,3,8,15,6,-2,-5,1,8,3,-6,-6,-4,-5];
const g15 = [-6,7,2,0,5,7,8,13,15,12,6,-4,-9,3,10,5,4,15,17,9,
4,8,11,9,8,10,7,3,1,-2,-6,-11,-2,3,0,-3,-4,-5,-6,-7,
-9,-21,-32,-25,-13,-9,-10,-11,-10,-11,-13,-16,-9,0,-3,-6,0,2,0,2,
5,4,0,-3,-5,-6,-6,-6,-3,3,6,0,-6,1,7,10,8,4,2,1,
1,0,-1,-3,-5,-7,-9,-10,-8,-6,-4,-5,-7,-9,-11,-12,-11,-12,-16,-21,
-20,-19,-14,-10,-7,-6,-8,-9,-6,-5,-7,-8,-6,-6,-7,-9,-11,-14,-12,-10,
-8,-7,-6,-5,-3,-1,0,2,4,5,4,4,6,9,12,14,12,10,8,8,
9,8,3,1,0,2,6,8,7,7,7,7,6,5,4,4,3,3,0,-1,
2,5,5,4,0,-4,4,10,12,13,10,6,3,3,2,2,2,2,1,-2,
-3,2,5,1,0,7,2,-3,2,6,8,9,5,8,12,8,3,7,10,5,
-5,6,9,10,9,10,9,8,6,4,3,6,8,6,4,3,3,1,-8,-14,
-9,-3,0,0,-1,3,7,3,8,15,6,-2,-5,1,8,3,-8,-11,-9,-7];
const o15 = [-7,-9,-11,-8,-6,
-4,-4,-3,-3,-5,-3,-4,-6,-5,-4,
3,1,-2,0,1,1,2,3,5,7,
7,7,9,11,9,7,4,5,6,4,
4,5,3,0,3,4,5,4,2,0,
3,9,7,6,4,5,4,3,1,-1,
-1,-2,-5,-6,-8,-5,-4,-3,-5,-4];

// ---- Mona ----
const b16 = [-7,9,4,3,5,7,7,12,14,11,5,-3,-8,3,9,5,1,13,16,8,
2,8,12,10,9,10,6,3,1,-2,-6,-10,-3,2,0,-3,-5,-6,-7,-8,
-10,-20,-30,-24,-14,-10,-11,-11,-10,-10,-12,-14,-8,0,-3,-5,1,4,0,2,
3,3,0,-3,-5,-6,-6,-6,-3,3,5,0,-4,2,7,10,8,4,2,1,
1,0,-1,-3,-5,-7,-9,-10,-8,-6,-4,-5,-7,-9,-11,-12,-10,-11,-15,-20,
-19,-18,-14,-10,-7,-6,-8,-9,-6,-5,-7,-8,-6,-6,-7,-9,-11,-15,-12,-10,
-8,-7,-6,-5,-3,-1,0,2,4,5,4,4,6,9,11,12,11,10,9,8,
9,8,3,1,0,2,6,8,7,7,7,7,6,5,4,4,3,3,0,-1,
2,4,4,3,0,-5,3,9,11,13,9,5,2,2,1,2,1,2,1,-2,
-3,2,5,1,0,6,2,-3,2,6,7,8,5,7,10,7,2,6,9,4,
-5,5,8,9,8,9,9,7,6,4,3,6,7,6,4,3,3,1,-7,-14,
-8,-3,0,0,-1,3,7,3,9,16,6,-2,-8,1,9,3,-7,-6,-6,-8];
const g16 = [-8,9,4,3,5,7,7,12,14,11,5,-3,-8,3,9,5,2,14,17,8,
2,8,12,10,9,10,6,3,1,-2,-6,-10,-3,2,0,-3,-5,-6,-7,-8,
-10,-21,-31,-24,-13,-10,-11,-11,-10,-11,-13,-15,-9,0,-3,-5,1,4,0,2,
3,3,0,-3,-5,-6,-6,-6,-3,3,5,0,-4,2,7,10,8,4,2,1,
1,0,-1,-3,-5,-7,-9,-10,-8,-6,-4,-5,-7,-9,-11,-12,-10,-11,-15,-20,
-19,-18,-14,-10,-7,-6,-8,-9,-6,-5,-7,-8,-6,-6,-7,-9,-11,-15,-12,-10,
-8,-7,-6,-5,-3,-1,0,2,4,5,4,4,6,9,12,13,12,10,9,8,
9,8,3,1,0,2,6,8,7,7,7,7,6,5,4,4,3,3,0,-1,
2,4,4,3,0,-5,3,9,11,13,9,5,2,2,1,2,1,2,1,-2,
-3,2,5,1,0,6,2,-3,2,6,7,8,5,7,10,7,2,6,9,4,
-4,5,8,9,8,9,9,7,6,4,3,6,7,6,4,3,3,1,-7,-13,
-8,-3,0,0,-1,3,7,3,9,16,6,-2,-8,1,9,3,-8,-8,-9,-11];
const o16 = [-5,-1,-3,-2,-3,-1,-3,-4,-4,-2,
-3,-3,-5,-7,-9,-8,-6,-8,-12,-18,
-8,24,-7,-6,-1,4,2,0,-2,-3,
-3,-2,-3,-3,-4,-3,-4,-5,-4,-5,
-4,-3,-3,-2,-3,-2,-2,0,-2,-5,
-8,-11,-8,-7,-8,-7,-9,-7,-6,-5,
-4,-2,-1,-1,-2,-3,-2,-2,-3,1,
3,3,4,3,5,3,4,4,8,9,
7,8,9,8,9,10,11,9,11,12,
17,11,6,3,5,3,5,3,5,4,
6,11,9,6,5,5,4,5,4,5,
1,-1,-3,-1,-2,-3,-5,-6,-8,-9];

const blueData  = [b1,b2,b3,b4,b5,b6,b7,b8,b9,b10,b11,b12,b13,b14,b15,b16];
const greenData = [g1,g2,g3,g4,g5,g6,g7,g8,g9,g10,g11,g12,g13,g14,g15,g16];
const obsData   = [o1,o2,o3,o4,o5,o6,o7,o8,o9,o10,o11,o12,o13,o14,o15,o16];

// ---------------- LAYOUT / STYLE (reference pixel units) ----------------
const REF_W = 5150, REF_H = 1950;
const FONT = 'DejaVu Sans';
const colLeft = [77, 1361, 2645, 3929];
const rowTop = [37, 429, 821, 1213];
const W = 1205, H = 331;

function toXY(arr, x0, dx) {
  return arr.map((v, i) => [+(x0 + i * dx).toFixed(3), v / 100]);
}
function fmt(v) {
  const s = Math.abs(v).toFixed(1);
  return (v < -1e-9 ? '\u2212' : '') + s;
}

const grids = [], xAxes = [], yAxes = [], series = [], titlesOpt = [];
for (let i = 0; i < 16; i++) {
  const col = i % 4, row = Math.floor(i / 4);
  const L = colLeft[col], T = rowTop[row];
  grids.push({left: L, top: T, width: W, height: H, show: true,
    borderColor: '#000', borderWidth: 1.1, backgroundColor: '#fff'});
  titlesOpt.push({text: titles[i], left: L + W / 2, top: T - 24, textAlign: 'center', padding: 0,
    textStyle: {fontFamily: FONT, fontSize: 16.7, fontWeight: 'normal', color: '#000', lineHeight: 20}});
  xAxes.push({type: 'value', gridIndex: i, min: xMin, max: xMax,
    axisLine: {show: true, onZero: false, lineStyle: {color: '#000', width: 1.1}},
    axisTick: {show: true, inside: false, length: 5, lineStyle: {color: '#000', width: 1.1}, customValues: xTicks},
    axisLabel: {show: true, margin: 8, color: '#000', fontFamily: FONT, fontSize: 13.9, customValues: xTicks,
      formatter: v => String(Math.round(v))},
    splitLine: {show: false}});
  const ya = {type: 'value', gridIndex: i, min: yMin[i], max: yMax[i],
    axisLine: {show: true, onZero: false, lineStyle: {color: '#000', width: 1.1}},
    axisTick: {show: true, inside: false, length: 5, lineStyle: {color: '#000', width: 1.1}, customValues: yTicks[i]},
    axisLabel: {show: true, margin: 9, color: '#000', fontFamily: FONT, fontSize: 13.9, customValues: yTicks[i],
      formatter: v => fmt(v)},
    splitLine: {show: false}};
  if (col % 2 === 0) {
    ya.name = yLabel; ya.nameLocation = 'middle'; ya.nameGap = 46;
    ya.nameTextStyle = {fontFamily: FONT, fontSize: 13.9, color: '#000'};
  }
  yAxes.push(ya);

  if (obsData[i].length) {
    series.push({type: 'line', name: seriesNames[0], xAxisIndex: i, yAxisIndex: i,
      data: toXY(obsData[i], obsStart[i], obsStep[i]), showSymbol: false, symbol: 'none', smooth: 0.4,
      lineStyle: {color: '#ff0000', width: 2.8, type: [17.8, 4.4, 2.8, 4.4]}, itemStyle: {color: '#ff0000'},
      z: 2, silent: true, animation: false});
  }
  series.push({type: 'line', name: seriesNames[1], xAxisIndex: i, yAxisIndex: i,
    data: toXY(greenData[i], modelStart, modelStep), showSymbol: false, symbol: 'none', smooth: 0.4,
    lineStyle: {color: '#008000', width: 1.1, type: [4.5, 2]}, itemStyle: {color: '#008000'},
    z: 3, silent: true, animation: false});
  series.push({type: 'line', name: seriesNames[2], xAxisIndex: i, yAxisIndex: i,
    data: toXY(blueData[i], modelStart, modelStep), showSymbol: false, symbol: 'none', smooth: 0.4,
    lineStyle: {color: '#0000ff', width: 1.25}, itemStyle: {color: '#0000ff'},
    z: 4, silent: true, animation: false});
}

// The browser viewport may be narrower than the reference (e.g. capped at 4096 px):
// draw in reference units, then stretch the drawing to fill the viewport exactly.
const vw = window.innerWidth || REF_W, vh = window.innerHeight || REF_H;
const sx = vw / REF_W, sy = vh / REF_H;
const wrap = document.getElementById('wrap');
wrap.style.width = vw + 'px';
wrap.style.height = vh + 'px';
const el = document.getElementById('c');
el.style.transform = 'scale(' + sx + ',' + sy + ')';

const chart = echarts.init(el, null, {renderer: 'svg', width: REF_W, height: REF_H});
chart.setOption({
  backgroundColor: '#fff',
  animation: false,
  title: titlesOpt,
  grid: grids,
  xAxis: xAxes,
  yAxis: yAxes,
  legend: {
    data: seriesNames, orient: 'vertical', left: 1167, top: 45,
    padding: [4, 6, 4, 5], itemGap: 5, itemWidth: 29, itemHeight: 14,
    backgroundColor: 'rgba(255,255,255,0.8)', borderColor: '#cccccc', borderWidth: 1, borderRadius: 3,
    itemStyle: {opacity: 0},
    textStyle: {fontFamily: FONT, fontSize: 13.9, color: '#000', padding: [0, 0, 0, 6]},
    selectedMode: false
  },
  series: series
});
</script>
</body></html>
